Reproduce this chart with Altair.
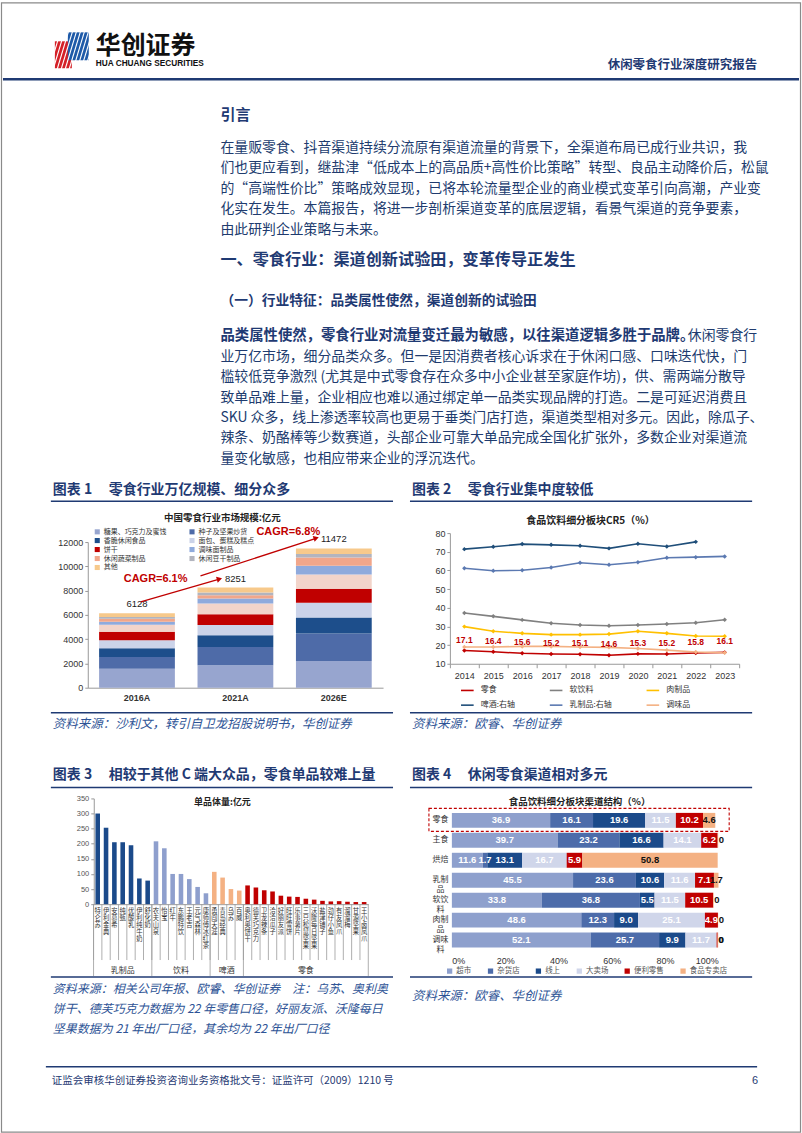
import altair as alt
import pandas as pd

CJK = "Noto Sans CJK SC"
LAT = "Liberation Sans"
NAVY = "#1F3A73"
BODY = "#203B6E"
SRC = "#2E5496"
RED = "#C00000"
AXC = "#333333"

# ---------------- page text ----------------
logo_cn = "华创证券"
logo_en = "HUA CHUANG SECURITIES"
header_title = "休闲零食行业深度研究报告"
intro_title = "引言"
para1 = [
    "在量贩零食、抖音渠道持续分流原有渠道流量的背景下，全渠道布局已成行业共识，我",
    "们也更应看到，继盐津“低成本上的高品质+高性价比策略”转型、良品主动降价后，松鼠",
    "的“高端性价比”策略成效显现，已将本轮流量型企业的商业模式变革引向高潮，产业变",
    "化实在发生。本篇报告，将进一步剖析渠道变革的底层逻辑，看景气渠道的竞争要素，",
    "由此研判企业策略与未来。",
]
section1 = "一、零食行业：渠道创新试验田，变革传导正发生"
sub1 = "（一）行业特征：品类属性使然，渠道创新的试验田"
para2_bold = "品类属性使然，零食行业对流量变迁最为敏感，以往渠道逻辑多胜于品牌。"
para2_tail = "休闲零食行"
para2 = [
    "业万亿市场，细分品类众多。但一是因消费者核心诉求在于休闲口感、口味迭代快，门",
    "槛较低竞争激烈 (尤其是中式零食存在众多中小企业甚至家庭作坊)，供、需两端分散导",
    "致单品难上量，企业相应也难以通过绑定单一品类实现品牌的打造。二是可延迟消费且",
    "SKU 众多，线上渗透率较高也更易于垂类门店打造，渠道类型相对多元。因此，除瓜子、",
    "辣条、奶酪棒等少数赛道，头部企业可靠大单品完成全国化扩张外，多数企业对渠道流",
    "量变化敏感，也相应带来企业的浮沉迭代。",
]
footer = "证监会审核华创证券投资咨询业务资格批文号：证监许可（2009）1210 号"
page_no = "6"

# ---------------- chart 1 ----------------
c1_title_no = "图表 1"
c1_title = "零食行业万亿规模、细分众多"
c1_inner = "中国零食行业市场规模:亿元"
c1_source = "资料来源：沙利文，转引自卫龙招股说明书，华创证券"
c1_years = ["2016A", "2021A", "2026E"]
c1_series = ["糖果、巧克力及蜜饯", "种子及坚果炒货", "香脆休闲食品", "面包、蛋糕及糕点",
             "饼干", "休闲卤制品", "调味面制品", "休闲蔬菜制品", "休闲豆干制品", "其他"]
c1_legend = ["糖果、巧克力及蜜饯", "种子及坚果炒货", "香脆休闲食品", "面包、蛋糕及糕点",
             "饼干", "调味面制品", "休闲蔬菜制品", "休闲豆干制品", "其他"]
c1_2016 = [1570, 960, 720, 650, 700, 580, 250, 250, 150, 298]
c1_2021 = [1844, 1514, 963, 854, 880, 881, 413, 275, 221, 406]
c1_2026 = [2202, 2257, 1321, 1211, 1156, 1184, 716, 688, 275, 462]
c1_totals = [6128, 8251, 11472]
c1_colors = ["#97A5CF", "#4E6BA8", "#1D4E8B", "#CBD3E9", "#C00000",
             "#F2D4CA", "#8FAADC", "#F1A68A", "#B2B4BE", "#F7C98B"]
c1_cagr = ["CAGR=6.1%", "CAGR=6.8%"]

# ---------------- chart 2 ----------------
c2_title_no = "图表 2"
c2_title = "零食行业集中度较低"
c2_inner = "食品饮料细分板块CR5（%）"
c2_source = "资料来源：欧睿、华创证券"
c2_years = ["2014", "2015", "2016", "2017", "2018", "2019", "2020", "2021", "2022", "2023"]
c2_series = ["零食", "软饮料", "肉制品", "啤酒:右轴", "乳制品:右轴", "调味品"]
c2_snack = [17.1, 16.4, 15.6, 15.2, 15.1, 14.6, 15.3, 15.2, 15.8, 16.1]
c2_soft = [37.2, 35.4, 33.5, 31.7, 30.8, 30.4, 30.8, 31.3, 32.0, 33.6]
c2_meat = [29.9, 27.4, 26.3, 25.6, 25.6, 25.9, 27.4, 26.3, 24.9, 24.7]
c2_beer = [71.4, 72.7, 74.1, 73.7, 73.2, 71.8, 74.3, 72.8, 75.3, None]
c2_dairy = [61.2, 59.8, 60.1, 61.6, 64.1, 63.0, 64.4, 66.8, 67.1, 67.5]
c2_condiment = [19.0, 19.0, 19.3, 19.3, 19.0, 18.8, 18.2, 17.3, 16.3, 15.9]
c2_colors = ["#C00000", "#808080", "#FFC000", "#1F4E79", "#5B79B1", "#F4B183"]

# ---------------- chart 3 ----------------
c3_title_no = "图表 3"
c3_title = "相较于其他 C 端大众品，零食单品较难上量"
c3_inner = "单品体量:亿元"
c3_source = ["资料来源：相关公司年报、欧睿、华创证券　注：乌苏、奥利奥",
             "饼干、德芙巧克力数据为 22 年零售口径，好丽友派、沃隆每日",
             "坚果数据为 21 年出厂口径，其余均为 22 年出厂口径"]
c3_groups = ["乳制品", "饮料", "啤酒", "零食"]
c3_dairy_names = ["特仑苏", "伊利金典", "安慕希", "纯甄", "优酸乳", "伊利纯牛奶", "舒化奶"]
c3_dairy_vals = [300, 253, 205, 205, 195, 85, 78]
c3_drink_names = ["农夫山泉", "怡宝", "红牛", "东鹏特饮", "王老吉", "元气森林", "康师傅冰红茶"]
c3_drink_vals = [208, 185, 100, 100, 83, 57, 36]
c3_beer_names = ["勇闯天涯", "青岛经典", "乌苏", "百威"]
c3_beer_vals = [107, 88, 50, 45]
c3_snack_names = ["奥利奥饼干", "德芙巧克力", "卫龙辣条", "洽洽瓜子", "好丽友派", "旺旺雪饼",
                  "乐事薯片", "三只松鼠坚果", "沃隆每日坚果", "盐津铺子", "劲仔小鱼",
                  "有友凤爪", "溜溜梅", "甘源坚果", "王小卤凤爪"]
c3_snack_vals = [62, 55, 46, 42, 28, 25, 24, 18, 15, 11, 9, 10, 8, 7, 7]
c3_colors = ["#1B4A8A", "#8E9FCD", "#F4B183", "#C00000"]

# ---------------- chart 4 ----------------
c4_title_no = "图表 4"
c4_title = "休闲零食渠道相对多元"
c4_inner = "食品饮料细分板块渠道结构（%）"
c4_source = "资料来源：欧睿、华创证券"
c4_cats = ["零食", "主食", "烘焙", "乳制品", "软饮料", "肉制品", "调味料"]
c4_channels = ["超市", "杂货店", "线上", "大卖场", "便利零售", "食品专卖店"]
c4_super = [36.9, 39.7, 11.6, 45.5, 33.8, 48.6, 52.1]
c4_grocery = [16.1, 23.2, 1.7, 23.6, 36.8, 12.3, 25.7]
c4_online = [19.6, 16.6, 13.1, 10.6, 5.5, 9.0, 9.9]
c4_hyper = [11.5, 14.1, 16.7, 11.6, 11.5, 25.1, 11.7]
c4_conv = [10.2, 6.2, 5.9, 7.1, 10.5, 4.9, 0.4]
c4_special = [4.6, 0.2, 50.8, 1.7, 0.2, 0.1, 0.2]
c4_colors = ["#8EA0CD", "#4D6CAA", "#1B4A8A", "#D0D6EA", "#C00000", "#F4B183"]

ONE = pd.DataFrame({"k": [0]})


def txt(s, x, y, size=12, color=BODY, weight="normal", style="normal", align="left",
        baseline="middle", font=CJK, lh=None):
    kw = dict(align=align, baseline=baseline, fontSize=size, font=font, color=color,
              fontWeight=weight, fontStyle=style)
    if lh is not None:
        kw.update(lineBreak="\n", lineHeight=lh)
    return alt.Chart(ONE).mark_text(**kw).encode(
        x=alt.value(x), y=alt.value(y), text=alt.value(s))


def rule(x1, y1, x2, y2, color=NAVY, w=1.5, dash=None):
    kw = dict(color=color, strokeWidth=w)
    if dash:
        kw["strokeDash"] = dash
    return alt.Chart(ONE).mark_rule(**kw).encode(
        x=alt.value(x1), y=alt.value(y1), x2=alt.value(x2), y2=alt.value(y2))


def box(x1, y1, x2, y2, fill="#000000", fo=1.0, stroke=None, sw=1.0, dash=None):
    kw = dict(fill=fill, fillOpacity=fo)
    if stroke:
        kw.update(stroke=stroke, strokeWidth=sw)
    if dash:
        kw["strokeDash"] = dash
    return alt.Chart(ONE).mark_rect(**kw).encode(
        x=alt.value(x1), x2=alt.value(x2), y=alt.value(y1), y2=alt.value(y2))


def arrow_head(x, y, ang):
    return alt.Chart(ONE).mark_point(shape="triangle-up", filled=True, size=38, angle=ang,
                                     color=RED, opacity=1).encode(x=alt.value(x), y=alt.value(y))


# ======================= CELL A (0,0) 400x760 =======================
A_layers = []
A_layers.append(box(0.5, 0.5, 801.5, 1132.5, fill="#ffffff", fo=0, stroke="#8a8a8a", sw=1.2))
# logo
A_layers.append(box(54, 39, 71, 66, fill="#D42027"))
A_layers.append(box(67, 30, 88, 58, fill="#1E5AA8"))
for i in range(10):
    A_layers.append(rule(48 + 4 * i, 68, 60 + 4 * i, 28, color="#ffffff", w=1.1))
A_layers.append(txt(logo_cn, 95, 44, size=25, color="#111111", weight="bold"))
A_layers.append(txt(logo_en, 95, 62, size=8.3, color="#111111", weight="bold", font=LAT))
A_layers.append(txt(header_title, 758, 63, size=12.5, color=NAVY, weight="bold", align="right"))
A_layers.append(rule(2, 77, 800, 77, color=NAVY, w=2.4))
# body
A_layers.append(txt(intro_title, 220, 113, size=15, color=NAVY, weight="bold"))
A_layers.append(txt("\n".join(para1), 220, 138.5, size=13.9, baseline="top", lh=20.7))
A_layers.append(txt(section1, 220, 258, size=16.2, color=NAVY, weight="bold"))
A_layers.append(txt(sub1, 220, 299, size=13.8, color=NAVY, weight="bold"))
A_layers.append(txt(para2_bold, 220, 334, size=14.4, color=NAVY, weight="bold"))
A_layers.append(txt(para2_tail, 758, 334, size=13.9, align="right"))
A_layers.append(txt("\n".join(para2), 220, 348.5, size=13.9, baseline="top", lh=20.4))
# chart 1 frame
A_layers.append(txt(c1_title_no, 52, 489, size=14, color=NAVY, weight="bold"))
A_layers.append(txt(c1_title, 108, 489, size=14, color=NAVY, weight="bold"))
A_layers.append(rule(50, 500, 393, 500))
A_layers.append(txt(c1_inner, 222, 517, size=9.5, color="#222222", weight="bold", align="center"))
A_layers.append(rule(50, 712, 393, 712))
A_layers.append(txt(c1_source, 52, 723, size=12.5, color=SRC, style="italic"))

c1_rows = []
for yr, vals in zip(c1_years, [c1_2016, c1_2021, c1_2026]):
    for si, (s, v) in enumerate(zip(c1_series, vals)):
        c1_rows.append({"year": yr, "s1": s, "v": v, "o": si})
df1 = pd.DataFrame(c1_rows)
df1t = pd.DataFrame({"year": c1_years, "total": c1_totals})

ax1x = alt.Axis(offset=-73, labelFont=LAT, labelFontSize=9, labelFontWeight="bold",
                labelColor=AXC, domainColor="#999999", ticks=False, labelPadding=6,
                labelAngle=0, title=None)
ax1y = alt.Axis(offset=-87, values=list(range(0, 12001, 2000)), format="d", labelFont=LAT,
                labelFontSize=9, labelColor=AXC, domainColor="#999999", tickColor="#999999",
                tickSize=3, grid=False, title=None)
x1 = alt.X("year:N", sort=c1_years, title=None,
           scale=alt.Scale(range=[87, 383], paddingInner=0.23, paddingOuter=0.115), axis=ax1x)
bars1 = alt.Chart(df1).mark_bar().encode(
    x=x1,
    y=alt.Y("v:Q", stack="zero", title=None,
            scale=alt.Scale(domain=[0, 12000], range=[687, 541], nice=False), axis=ax1y),
    color=alt.Color("s1:N", scale=alt.Scale(domain=c1_series, range=c1_colors),
                    legend=alt.Legend(orient="none", legendX=93, legendY=527, columns=2,
                                      direction="horizontal", title=None,
                                      symbolType="square", symbolSize=26, symbolStrokeWidth=0,
                                      labelFont=CJK, labelFontSize=7, labelColor=AXC,
                                      columnPadding=22, rowPadding=1, labelOffset=3,
                                      values=c1_legend)),
    order=alt.Order("o:Q"),
)
tot1 = alt.Chart(df1t).mark_text(dy=-9, fontSize=9.5, font=LAT, color="#222222").encode(
    x=alt.X("year:N", sort=c1_years, title=None, axis=ax1x),
    y=alt.Y("total:Q", title=None, axis=ax1y),
    text=alt.Text("total:Q", format="d"),
)
A_layers += [bars1, tot1]
A_layers.append(rule(140, 601, 218, 578.5, color=RED, w=1.3))
A_layers.append(arrow_head(219, 578, 74))
A_layers.append(rule(200, 575, 315, 537.5, color=RED, w=1.3))
A_layers.append(arrow_head(316, 537, 72))
A_layers.append(txt(c1_cagr[0], 155, 578, size=11, color=RED, weight="bold", align="center", font=LAT))
A_layers.append(txt(c1_cagr[1], 288, 531, size=11, color=RED, weight="bold", align="center", font=LAT))

cellA = alt.layer(*A_layers).properties(width=400, height=760)

# ======================= CELL B (400,0) 402x760 =======================
B_layers = []
B_layers.append(txt(c2_title_no, 12, 489, size=14, color=NAVY, weight="bold"))
B_layers.append(txt(c2_title, 68, 489, size=14, color=NAVY, weight="bold"))
B_layers.append(rule(10, 500, 353, 500))
B_layers.append(txt(c2_inner, 191, 520, size=10, color="#222222", weight="bold", align="center"))
B_layers.append(rule(10, 712, 353, 712))
B_layers.append(txt(c2_source, 12, 723, size=12.5, color=SRC, style="italic"))

c2_rows = []
for s, vals in zip(c2_series, [c2_snack, c2_soft, c2_meat, c2_beer, c2_dairy, c2_condiment]):
    for yr, v in zip(c2_years, vals):
        if v is not None:
            c2_rows.append({"year": yr, "s2": s, "v": v})
df2 = pd.DataFrame(c2_rows)

ax2x = alt.Axis(offset=-97, labelFont=LAT, labelFontSize=9, labelColor=AXC, domainColor="#999999",
                tickColor="#999999", tickBand="extent", tickSize=4, labelPadding=4, labelAngle=0,
                title=None)
ax2y = alt.Axis(offset=-50, values=list(range(10, 81, 10)), labelFont=LAT, labelFontSize=9,
                labelColor=AXC, domainColor="#999999", tickColor="#999999", tickSize=3, grid=False,
                title=None)
x2 = alt.X("year:N", sort=c2_years, title=None,
           scale=alt.Scale(range=[50, 340], paddingInner=0, paddingOuter=0), axis=ax2x)
y2 = alt.Y("v:Q", title=None, scale=alt.Scale(domain=[10, 80], range=[663, 532], nice=False, zero=False),
           axis=ax2y)
leg2 = alt.Legend(orient="none", legendX=60, legendY=682, columns=3, direction="horizontal",
                  title=None, symbolType="stroke",
                  symbolSize=160, symbolStrokeWidth=1.6, labelFont=CJK, labelFontSize=8,
                  labelColor=AXC, columnPadding=30, rowPadding=3, labelOffset=6)
col2 = alt.Color("s2:N", scale=alt.Scale(domain=c2_series, range=c2_colors), legend=leg2)
lines2 = alt.Chart(df2).mark_line(strokeWidth=1.6).encode(x=x2, y=y2, color=col2)
pts2 = alt.Chart(df2).mark_point(shape="diamond", filled=True, size=20, opacity=1).encode(
    x=x2, y=y2, color=col2)
lab2 = alt.Chart(df2[df2["s2"] == "零食"]).mark_text(
    dy=-11, fontSize=8.5, font=LAT, fontWeight="bold", color=RED).encode(
    x=x2, y=y2, text=alt.Text("v:Q", format=".1f"))
B_layers += [lines2, pts2, lab2]
cellB = alt.layer(*B_layers).properties(width=402, height=760)

# ======================= CELL C (0,760) 400x373 =======================
C_layers = []
C_layers.append(txt(c3_title_no, 52, 15, size=14, color=NAVY, weight="bold"))
C_layers.append(txt(c3_title, 108, 15, size=14, color=NAVY, weight="bold"))
C_layers.append(rule(50, 27, 393, 27))
C_layers.append(txt(c3_inner, 222, 42, size=9, color="#222222", weight="bold", align="center"))
C_layers.append(rule(50, 217, 393, 217))
C_layers.append(txt("\n".join(c3_source), 52, 224, size=12, color=SRC, style="italic",
                    baseline="top", lh=20))
C_layers.append(rule(45, 307, 758, 307, color=NAVY, w=1.6))
C_layers.append(txt(footer, 51, 321, size=10.5, color=NAVY))
C_layers.append(txt(page_no, 756, 321, size=11, color=NAVY, align="center", font=LAT))

c3_rows = []
for g, names, vals in zip(c3_groups,
                          [c3_dairy_names, c3_drink_names, c3_beer_names, c3_snack_names],
                          [c3_dairy_vals, c3_drink_vals, c3_beer_vals, c3_snack_vals]):
    for j, (n, v) in enumerate(zip(names, vals)):
        c3_rows.append({"name": n, "g3": g, "v": v, "first": j == 0, "mid": j == len(names) // 2,
                        "vt": "\n".join(list(n))})
df3 = pd.DataFrame(c3_rows)
c3_names = list(df3["name"])
ax3x = alt.Axis(offset=-229, labels=False, ticks=False, domainColor="#999999", title=None)
ax3y = alt.Axis(offset=-93, values=list(range(0, 351, 50)), labelFont=LAT, labelFontSize=7.5,
                labelColor="#555555", domainColor="#999999", tickColor="#999999", tickSize=3,
                grid=False, title=None)
x3 = alt.X("name:N", sort=c3_names, title=None,
           scale=alt.Scale(range=[93, 368], paddingInner=0.45, paddingOuter=0.2), axis=ax3x)
bars3 = alt.Chart(df3).mark_bar().encode(
    x=x3,
    y=alt.Y("v:Q", title=None, scale=alt.Scale(domain=[0, 350], range=[144, 38], nice=False), axis=ax3y),
    color=alt.Color("g3:N", scale=alt.Scale(domain=c3_groups, range=c3_colors), legend=None),
)
step3 = 275 / (33 - 0.45 + 0.4)
names3 = alt.Chart(df3).mark_text(baseline="top", align="center", lineBreak="\n", lineHeight=7,
                                  fontSize=6.3, font=CJK, color="#333333").encode(
    x=x3, y=alt.value(148), text="vt:N")
sep3 = alt.Chart(df3).mark_rule(xOffset=-step3 / 2, color="#9a9a9a", strokeWidth=0.8).encode(
    x=x3, y=alt.value(144), y2=alt.value(200))
sepg3 = alt.Chart(df3[df3["first"]]).mark_rule(xOffset=-step3 / 2, color="#9a9a9a", strokeWidth=0.8).encode(
    x=x3, y=alt.value(144), y2=alt.value(216))
sepend3 = alt.Chart(df3.tail(1)).mark_rule(xOffset=step3 / 2, color="#9a9a9a", strokeWidth=0.8).encode(
    x=x3, y=alt.value(144), y2=alt.value(216))
odd_mid = df3[df3["mid"] & (df3["g3"] != "啤酒")]
even_mid = df3[df3["mid"] & (df3["g3"] == "啤酒")]
glab3 = alt.Chart(odd_mid).mark_text(fontSize=8, font=CJK, color="#333333").encode(
    x=x3, y=alt.value(211), text="g3:N")
glab3b = alt.Chart(even_mid).mark_text(fontSize=8, font=CJK, color="#333333", xOffset=-step3 / 2).encode(
    x=x3, y=alt.value(211), text="g3:N")
C_layers += [bars3, sep3, sepg3, sepend3, names3, glab3, glab3b]
cellC = alt.layer(*C_layers).properties(width=400, height=373)

# ======================= CELL D (400,760) 402x373 =======================
D_layers = []
D_layers.append(txt(c4_title_no, 12, 15, size=14, color=NAVY, weight="bold"))
D_layers.append(txt(c4_title, 68, 15, size=14, color=NAVY, weight="bold"))
D_layers.append(rule(10, 27, 353, 27))
D_layers.append(txt(c4_inner, 180, 42, size=9.5, color="#222222", weight="bold", align="center"))
D_layers.append(rule(10, 217, 353, 217))
D_layers.append(txt(c4_source, 12, 236, size=12.5, color=SRC, style="italic"))

c4_vals = [c4_super, c4_grocery, c4_online, c4_hyper, c4_conv, c4_special]
c4_rows = []
for ci, cat in enumerate(c4_cats):
    cum = 0.0
    for hi, ch in enumerate(c4_channels):
        v = c4_vals[hi][ci]
        c4_rows.append({"cat": cat, "ch": ch, "v": v, "o": hi, "mid": cum + v / 2,
                        "end": cum + v, "small": v < 1,
                        "lab": f"{v:.1f}" if v >= 1 else f"{v:.0f}",
                        "tc": "#111111" if (ch == "食品专卖店" or v < 1) else "#ffffff"})
        cum += v
df4 = pd.DataFrame(c4_rows)
ax4y = alt.Axis(offset=-52, domain=False, ticks=False, labelAlign="center", labelPadding=12,
                labelFont=CJK, labelFontSize=8, labelColor=AXC, labelLineHeight=10, title=None,
                labelExpr="length(datum.label) > 2 ? [substring(datum.label,0,2), substring(datum.label,2)] : datum.label")
ax4x = alt.Axis(offset=-183, values=[0, 20, 40, 60, 80, 100], labelExpr="datum.value + '%'",
                domain=False, ticks=False, labelFont=LAT, labelFontSize=9, labelColor=AXC,
                labelPadding=6, grid=False, title=None)
y4 = alt.Y("cat:N", sort=c4_cats, title=None,
           scale=alt.Scale(range=[50, 190], paddingInner=0.25, paddingOuter=0.125), axis=ax4y)
xs4 = alt.Scale(domain=[0, 100], range=[52, 319], nice=False)
bars4 = alt.Chart(df4).mark_bar().encode(
    x=alt.X("v:Q", stack="zero", title=None, scale=xs4, axis=ax4x),
    y=y4,
    color=alt.Color("ch:N", scale=alt.Scale(domain=c4_channels, range=c4_colors),
                    legend=alt.Legend(orient="none", legendX=46, legendY=207, direction="horizontal",
                                      title=None, symbolType="square", symbolSize=28,
                                      symbolStrokeWidth=0, labelFont=CJK, labelFontSize=7.5,
                                      labelColor="#555555", columnPadding=15, labelOffset=3)),
    order=alt.Order("o:Q"),
)
lab4 = alt.Chart(df4[~df4["small"]]).mark_text(fontSize=9.5, font=LAT, fontWeight="bold").encode(
    x=alt.X("mid:Q", title=None, scale=xs4, axis=ax4x),
    y=y4,
    text="lab:N",
    color=alt.Color("tc:N", scale=None),
)
lab4s = alt.Chart(df4[df4["small"]]).mark_text(fontSize=9.5, font=LAT, fontWeight="bold",
                                               align="left", dx=0.5).encode(
    x=alt.X("end:Q", title=None, scale=xs4, axis=ax4x),
    y=y4,
    text="lab:N",
    color=alt.Color("tc:N", scale=None),
)
D_layers += [bars4, lab4, lab4s]
D_layers.append(box(29, 48, 330, 71, fill="#ffffff", fo=0, stroke=RED, sw=1.1, dash=[3, 2]))
cellD = alt.layer(*D_layers).properties(width=402, height=373)

chart = alt.concat(cellA, cellB, cellC, cellD, columns=2, spacing=0, bounds="flush", align="each") \
    .resolve_scale(color="independent") \
    .resolve_legend(color="independent") \
    .properties(padding=0, background="white") \
    .configure_view(strokeWidth=0)

chart.save("out.html", embed_options={"renderer": "svg", "actions": False})
